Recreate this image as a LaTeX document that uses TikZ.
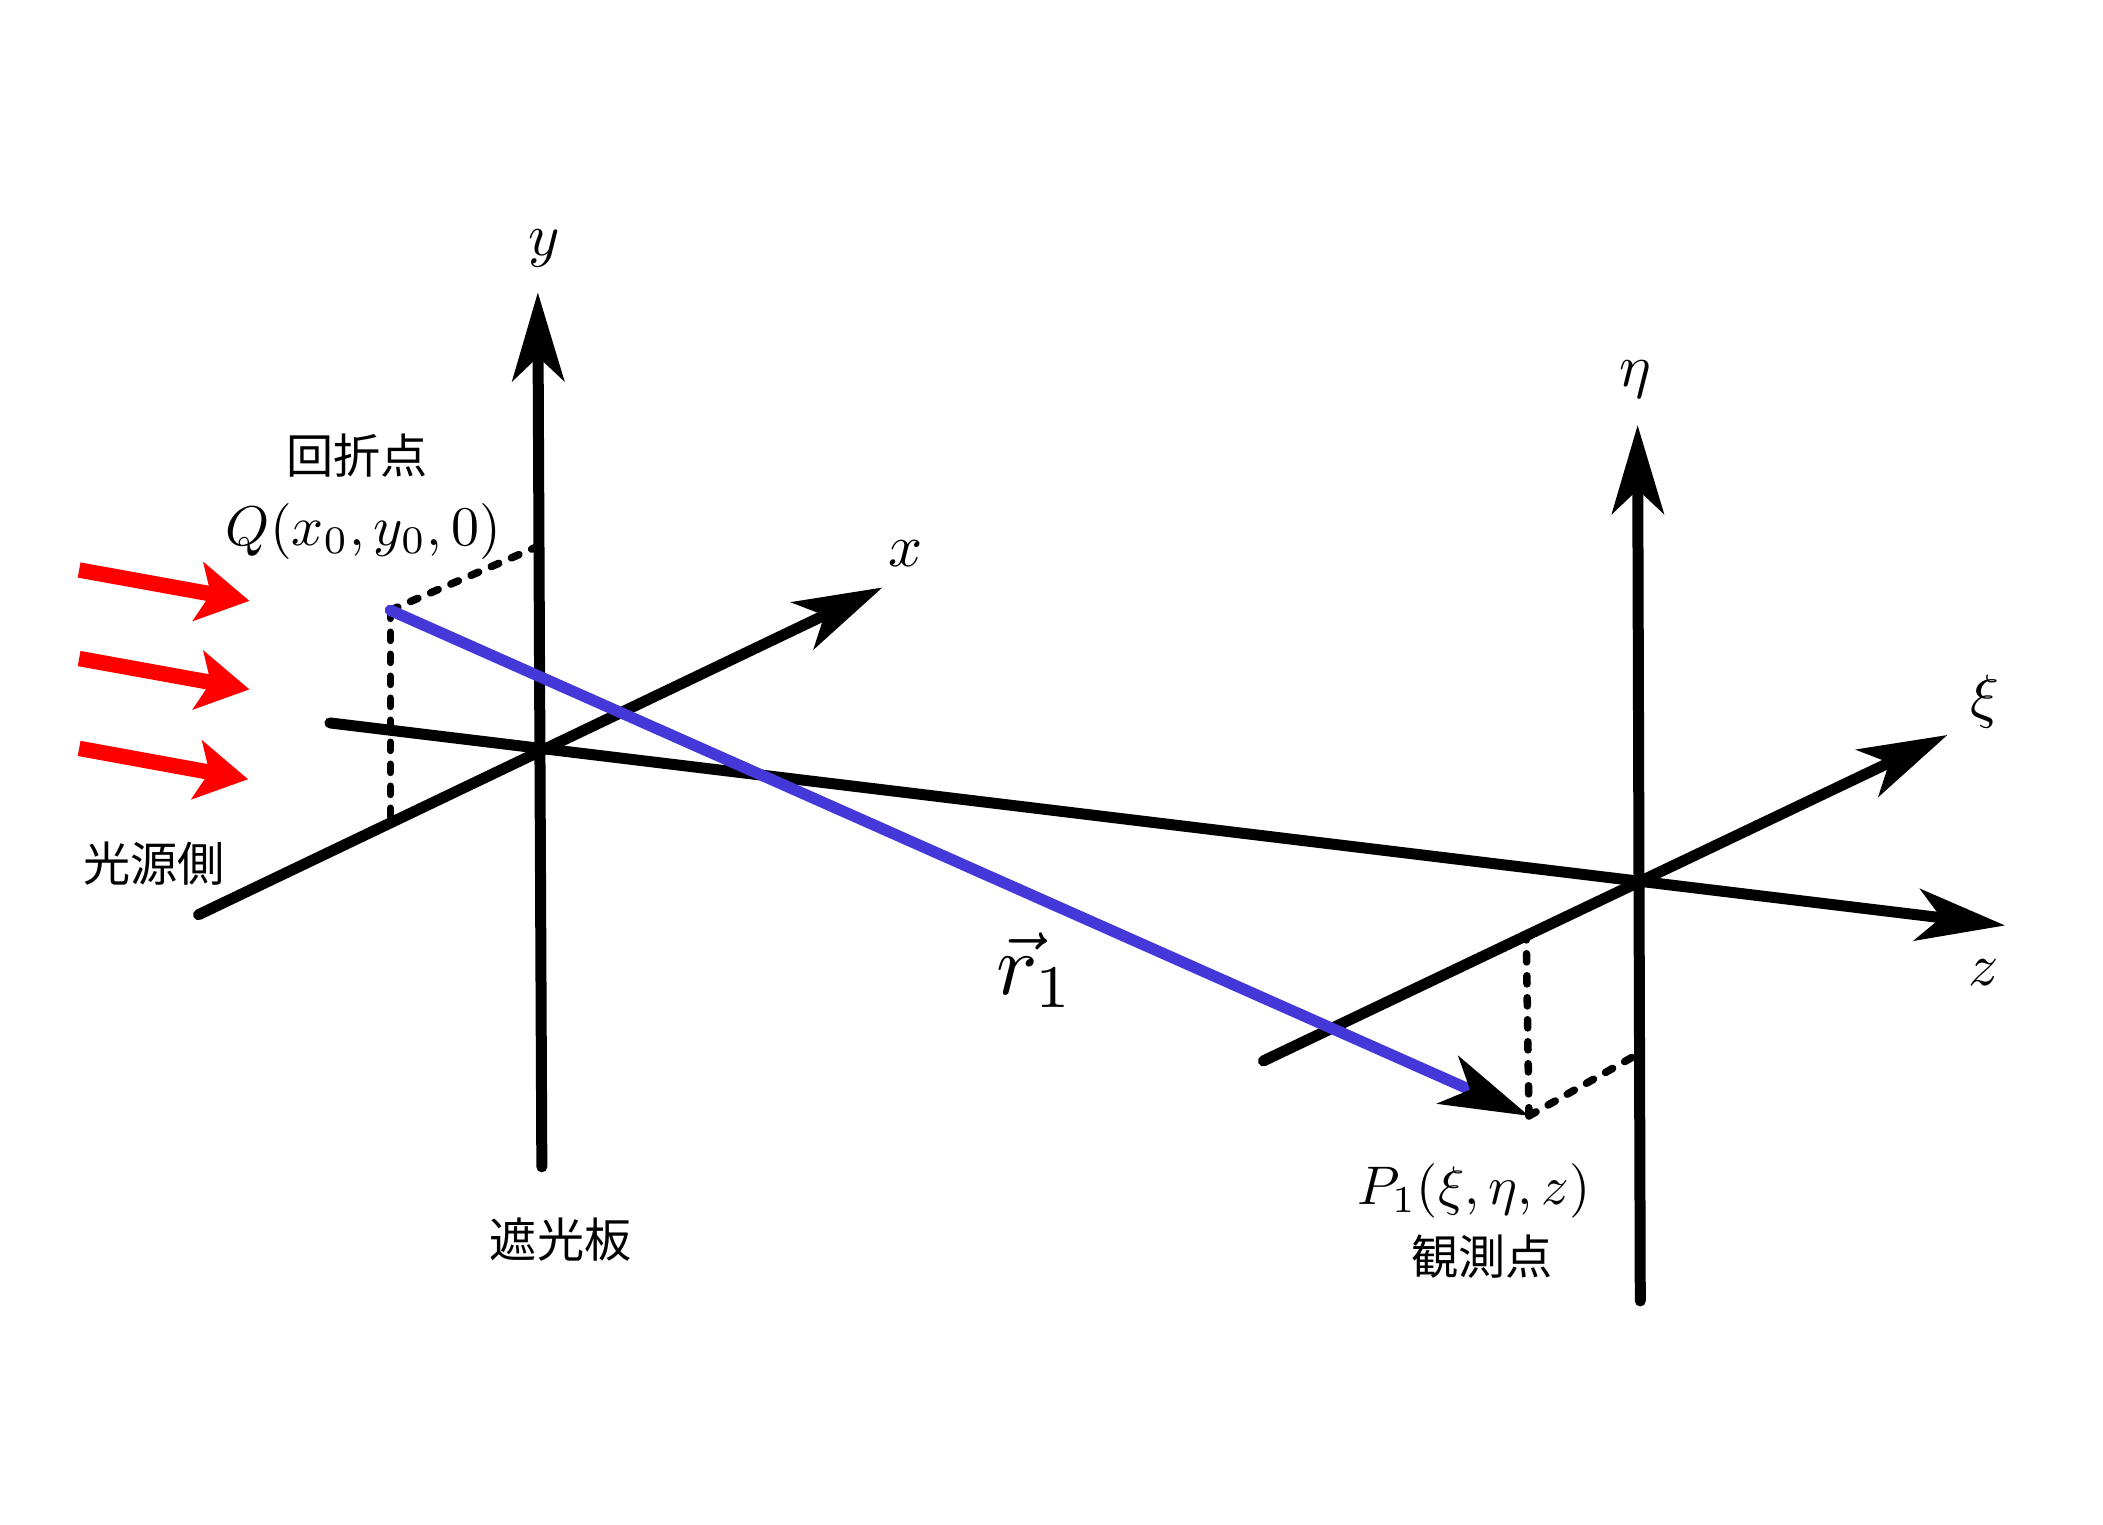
\documentclass[tikz,border=0pt]{standalone}
\usepackage{amsmath}
\usepackage{fontspec}
\newfontfamily\cjkfont{Noto Sans CJK JP}
\usetikzlibrary{arrows.meta}
\definecolor{ray_blue}{RGB}{68,56,216}
\tikzset{ axis_line/.style = {line width=3.5pt, line cap=round, -{Stealth[length=0.99cm, width=0.58cm, inset=0.27cm]}} }
\tikzset{ dash_line/.style = {line width=2.4pt, line cap=round, dash pattern=on 2.6pt off 4.4pt} }
\tikzset{ ray_line/.style = {line width=3.6pt, color=ray_blue, line cap=round, -{Stealth[black, length=0.99cm, width=0.58cm, inset=0.27cm]}} }
\tikzset{ light_arrow/.style = {line width=4.9pt, color=red, -{Stealth[length=0.58cm, width=0.66cm, inset=0.14cm]}} }
\tikzset{ math_text/.style = {scale=#1, inner sep=0pt}, math_text/.default=1.9 }
\tikzset{ cjk_text/.style = {font=\fontsize{15}{18}\selectfont\cjkfont, inner sep=0pt} }

\begin{document}
\begin{tikzpicture}[x=0.015cm, y=-0.015cm]
    \useasboundingbox (0,0) rectangle (1568,1137);
    % screen side axes
    \coordinate (y_low) at (404,870);
    \coordinate (y_tip) at (401,218);
    \coordinate (x_low) at (148,682);
    \coordinate (x_tip) at (658,438);
    \coordinate (z_low) at (246,539);
    \coordinate (z_tip) at (1495,690);
    % observer side axes
    \coordinate (eta_low) at (1223,970);
    \coordinate (eta_tip) at (1221,317);
    \coordinate (xi_low) at (942,791);
    \coordinate (xi_tip) at (1452,548);
    % points and feet
    \coordinate (Q_pt) at (291,455);
    \coordinate (Q_x) at (291,612);
    \coordinate (Q_y) at (402,407);
    \coordinate (P_pt) at (1140,832);
    \coordinate (P_xi) at (1138,700);
    \coordinate (P_eta) at (1221,786);
    % incoming light
    \coordinate (L1_a) at (59,425);
    \coordinate (L1_b) at (186,448);
    \coordinate (L2_a) at (59,491);
    \coordinate (L2_b) at (186,514);
    \coordinate (L3_a) at (59,558);
    \coordinate (L3_b) at (185,581);

    \draw[axis_line] (y_low) -- (y_tip);
    \draw[axis_line] (x_low) -- (x_tip);
    \draw[axis_line] (z_low) -- (z_tip);
    \draw[axis_line] (eta_low) -- (eta_tip);
    \draw[axis_line] (xi_low) -- (xi_tip);

    \draw[dash_line] (Q_pt) -- (Q_x);
    \draw[dash_line] (Q_pt) -- (Q_y);
    \draw[dash_line] (P_pt) -- (P_xi);
    \draw[dash_line] (P_pt) -- (P_eta);

    \draw[ray_line] (Q_pt) -- (P_pt);

    \draw[light_arrow] (L1_a) -- (L1_b);
    \draw[light_arrow] (L2_a) -- (L2_b);
    \draw[light_arrow] (L3_a) -- (L3_b);

    \node[math_text] (y_label) at (406,185) {$y$};
    \node[math_text] (x_label) at (675,413) {$x$};
    \node[math_text] (z_label) at (1479,725) {$z$};
    \node[math_text] (eta_label) at (1219,283) {$\eta$};
    \node[math_text] (xi_label) at (1480,523) {$\xi$};
    \node[math_text=1.78] (Q_label) at (271,396) {$Q(x_0,y_0,0)$};
    \node[math_text=1.73] (P_label) at (1099,888) {$P_1(\xi,\eta,z)$};
    \node[math_text=2.75] (r_label) at (772,723) {$\vec{r}_1$};
    \node[cjk_text] (Q_name) at (266,340) {回折点};
    \node[cjk_text] (P_name) at (1105,937) {観測点};
    \node[cjk_text] (source_name) at (115,644) {光源側};
    \node[cjk_text] (screen_name) at (418,924) {遮光板};
\end{tikzpicture}
\end{document}
